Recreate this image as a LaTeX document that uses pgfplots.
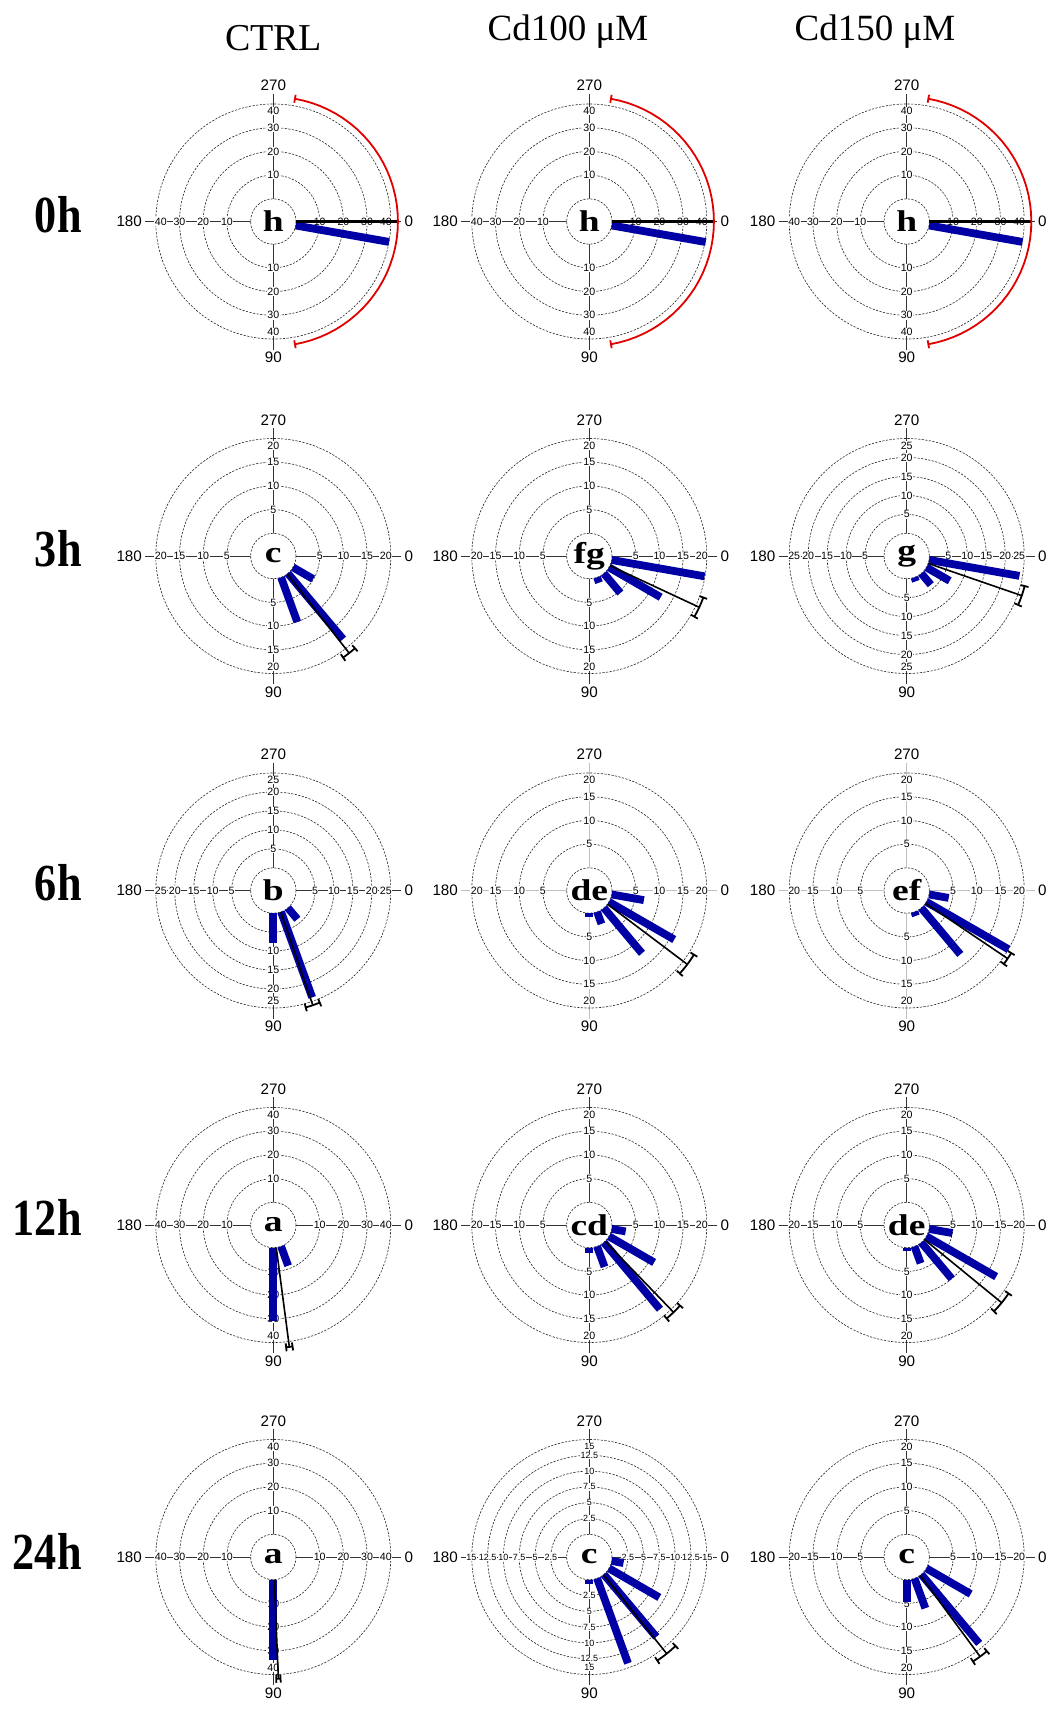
\documentclass[border=0pt]{standalone}
\usepackage{graphicx}
\usepackage{pgfplots}
\pgfplotsset{compat=1.18}
\usepackage{fontspec}
\setmainfont{Liberation Serif}
\setsansfont{Liberation Sans}
\definecolor{barblue}{RGB}{0,0,165}
\definecolor{arcred}{RGB}{225,0,0}

\def\tfs{5.3}
\def\hsh{5}
\tikzset{ring/.style={black!85, line width=0.3pt, dash pattern=on 1.1pt off 0.7pt},
 tick/.style={font=\sffamily\fontsize{\tfs}{6}\selectfont, fill=white, inner sep=0.25pt},
 anglab/.style={font=\sffamily\fontsize{7.6}{8}\selectfont, inner sep=0.5pt}}

% decorations of one rose panel: [spoke colour]{cx}{cy}{max}{ring values}
\newcommand\panel[5][black!80]{%
\begin{scope}[shift={(#2,#3)}]
\draw[#1, line width=0.45pt] (-128,0) -- (128,0) (0,-128) -- (0,128);
\foreach \v in {#5}{\pgfmathsetmacro\rr{22.7+94.8*\v/#4}\draw[ring] (0,0) circle[radius=\rr];}
\foreach \v in {#5}{\pgfmathsetmacro\rr{22.7+94.8*\v/#4}%
 \pgfmathsetmacro\rh{(\v==#4) ? \rr-\hsh : \rr}%
 \pgfmathsetmacro\rv{(\v==#4) ? \rr-7 : \rr}%
 \node[tick] at (\rh,0) {\v};\node[tick] at (-\rh,0) {\v};
 \node[tick] at (0,-\rv) {\v};\node[tick] at (0,\rv) {\v};}
\draw[ring, fill=white] (0,0) circle[radius=22.7];
\node[anglab, anchor=west] at (130,0) {0};
\node[anglab, anchor=east] at (-130,0) {180};
\node[anglab, anchor=south] at (0,-129) {270};
\node[anglab, anchor=north] at (0,129) {90};
\end{scope}}

\newcommand\setrose[1]{\pgfmathsetmacro\roff{0.2395*#1}\pgfmathsetmacro\capl{0.0422*#1}%
 \pgfmathsetmacro\uu{47.4/#1}\pgfmathsetmacro\rext{1.3*#1}}
\pgfplotsset{rose/.style 2 args={at={(#1*0.5pt,-#2*0.5pt)}, anchor=origin,
 x=\uu pt, y=\uu pt, y dir=reverse, hide axis, clip=false,
 xmin=-\rext, xmax=\rext, ymin=-\rext, ymax=\rext}}
\def\mlw{0.8pt}

% bar: {angle}{value}
\newcommand\rbar[2]{\addplot[barblue, line width=3.9pt, data cs=polar, mark=none]
 table[row sep=\\, x=a, y expr=\thisrow{v}+\roff]{a v\\ #1 0\\ #1 #2\\};}
% mean vector: [arc colour]{angle}{length}{half width of angular error}
\newcommand\mvec[4][black]{%
\addplot[black, line width=\mlw, data cs=polar, mark=none]
 table[row sep=\\, x=a, y expr=\thisrow{v}+\roff]{a v\\ #2 0\\ #2 #3\\};
\addplot[#1, line width=0.9pt, data cs=polar, mark=none, domain=#2-#4:#2+#4, samples=41, variable=\t]
 ({\t},{#3+\roff});
\addplot[#1, line width=0.9pt, data cs=polar, mark=none]
 table[row sep=\\, x expr={#2-#4}, y expr={#3+\roff+\capl*\thisrow{d}}]{d\\ -1\\ 1\\};
\addplot[#1, line width=0.9pt, data cs=polar, mark=none]
 table[row sep=\\, x expr={#2+#4}, y expr={#3+\roff+\capl*\thisrow{d}}]{d\\ -1\\ 1\\};}

\newcommand\letter[3]{\node[font=\bfseries\fontsize{15}{15}\selectfont, inner sep=0pt] at (#1,#2) {\scalebox{1.25}[1]{#3}};}
\newcommand\rowlab[2]{\node[font=\bfseries\fontsize{26}{26}\selectfont, anchor=base east, inner sep=0pt] at (82,#1) {\scalebox{0.85}[1]{#2}};}

\begin{document}
\begin{tikzpicture}[x=0.5pt,y=-0.5pt]
\path[use as bounding box] (0,0) rectangle (1053,1709);

% column and row titles
\node[font=\fontsize{19}{19}\selectfont, anchor=base] at (273.6,50) {CTRL};
\node[font=\fontsize{18.5}{19}\selectfont, anchor=base] at (568,40) {Cd100 μM};
\node[font=\fontsize{18.5}{19}\selectfont, anchor=base] at (875,40) {Cd150 μM};
\rowlab{232}{0h}
\rowlab{566}{3h}
\rowlab{900}{6h}
\rowlab{1235}{12h}
\rowlab{1569}{24h}

% ---------------- 0h ----------------
\def\mlw{1.3pt}
\panel{273.3}{221.5}{40}{10,20,30,40}
\setrose{40}
\begin{axis}[rose={273.3}{221.5}]
\rbar{10}{40}
\mvec[arcred]{0}{43}{80}
\end{axis}
\letter{273.3}{221.5}{h}

\panel{589.3}{221.5}{40}{10,20,30,40}
\setrose{40}
\begin{axis}[rose={589.3}{221.5}]
\rbar{10}{40.3}
\mvec[arcred]{0}{43}{80}
\end{axis}
\letter{589.3}{221.5}{h}

\panel{906.7}{221.5}{40}{10,20,30,40}
\setrose{40}
\begin{axis}[rose={906.7}{221.5}]
\rbar{10}{40}
\mvec[arcred]{0}{43}{80}
\end{axis}
\letter{906.7}{221.5}{h}
\def\mlw{0.8pt}

% ---------------- 3h ----------------
\panel{273.3}{556}{20}{5,10,15,20}
\setrose{20}
\begin{axis}[rose={273.3}{556}]
\rbar{30}{4.9}
\rbar{50}{18.1}
\rbar{70}{10}
\mvec{52}{21.2}{3.5}
\end{axis}
\letter{273.3}{556}{c}

\panel{589.3}{556}{20}{5,10,15,20}
\setrose{20}
\begin{axis}[rose={589.3}{556}]
\rbar{10}{19.9}
\rbar{30}{12.6}
\rbar{50}{5.4}
\rbar{70}{1.2}
\mvec{25}{20.8}{5}
\end{axis}
\letter{589.3}{556}{fg}

\panel{906.7}{556}{25}{5,10,15,20,25}
\setrose{25}
\begin{axis}[rose={906.7}{556}]
\rbar{10}{24.2}
\rbar{30}{7.1}
\rbar{50}{3.9}
\rbar{70}{1.1}
\mvec{19}{26.1}{4.7}
\end{axis}
\letter{906.7}{556}{g}

% ---------------- 6h ----------------
\panel{273.3}{890.5}{25}{5,10,15,20,25}
\setrose{25}
\begin{axis}[rose={273.3}{890.5}]
\rbar{50}{3.9}
\rbar{70}{24}
\rbar{90}{7.9}
\mvec{71}{26}{3.5}
\end{axis}
\letter{273.3}{890.5}{b}

\panel[black!25]{589.3}{890.5}{20}{5,10,15,20}
\setrose{20}
\begin{axis}[rose={589.3}{890.5}]
\rbar{10}{6.9}
\rbar{30}{15.9}
\rbar{50}{12.5}
\rbar{70}{2.7}
\rbar{90}{0.7}
\mvec{37}{21.1}{5.5}
\end{axis}
\letter{589.3}{890.5}{de}

\panel[black!25]{906.7}{890.5}{20}{5,10,15,20}
\setrose{20}
\begin{axis}[rose={906.7}{890.5}]
\rbar{10}{4.2}
\rbar{30}{20}
\rbar{50}{12.8}
\rbar{70}{0.9}
\mvec{34}{20.9}{3.1}
\end{axis}
\letter{906.7}{890.5}{ef}

% ---------------- 12h ----------------
\panel{273.3}{1225}{40}{10,20,30,40}
\setrose{40}
\begin{axis}[rose={273.3}{1225}]
\rbar{70}{8.7}
\rbar{90}{31}
\mvec{82.5}{42.3}{1.5}
\end{axis}
\letter{273.3}{1225}{a}

\panel{589.3}{1225}{20}{5,10,15,20}
\setrose{20}
\begin{axis}[rose={589.3}{1225}]
\rbar{10}{3}
\rbar{30}{11}
\rbar{50}{18.4}
\rbar{70}{4.6}
\rbar{90}{1.2}
\mvec{46}{20.8}{4.4}
\end{axis}
\letter{589.3}{1225}{cd}

\panel{906.7}{1225}{20}{5,10,15,20}
\setrose{20}
\begin{axis}[rose={906.7}{1225}]
\rbar{10}{5}
\rbar{30}{17}
\rbar{50}{10}
\rbar{70}{3.8}
\rbar{90}{0.6}
\mvec{39.3}{21.1}{5.4}
\end{axis}
\letter{906.7}{1225}{de}

% ---------------- 24h ----------------
\panel{273.3}{1557}{40}{10,20,30,40}
\setrose{40}
\begin{axis}[rose={273.3}{1557}]
\rbar{90}{34}
\mvec{87.6}{41.8}{1}
\end{axis}
\letter{273.3}{1557}{a}

\def\tfs{4.5}\def\hsh{-0.5}
\panel{589.3}{1557}{15}{2.5,5,7.5,10,12.5,15}
\def\tfs{5.3}\def\hsh{5}
\setrose{15}
\begin{axis}[rose={589.3}{1557}]
\rbar{10}{1.9}
\rbar{30}{9.2}
\rbar{50}{12.9}
\rbar{70}{14.3}
\rbar{90}{0.6}
\mvec{51.3}{16}{5.4}
\end{axis}
\letter{589.3}{1557}{c}

\panel{906.7}{1557}{20}{5,10,15,20}
\setrose{20}
\begin{axis}[rose={906.7}{1557}]
\rbar{30}{10.8}
\rbar{50}{19}
\rbar{70}{6.7}
\rbar{90}{4.7}
\mvec{53.6}{21.3}{4}
\end{axis}
\letter{906.7}{1557}{c}

\end{tikzpicture}
\end{document}
